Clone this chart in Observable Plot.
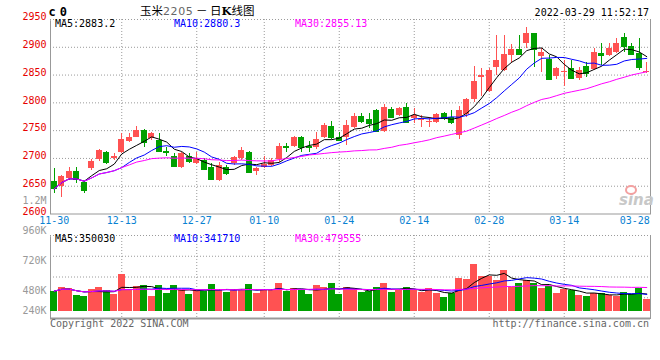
<!DOCTYPE html>
<html><head><meta charset="utf-8">
<script src="https://cdn.jsdelivr.net/npm/d3@7"></script>
<script src="https://cdn.jsdelivr.net/npm/@observablehq/plot@0.6"></script>
<style>
body{margin:0;background:#fff}
#wrap{position:relative;width:660px;height:360px;overflow:hidden;background:#fff;font-family:"DejaVu Sans Mono",monospace;}
#wrap svg{position:absolute;left:0;}
.t{position:absolute;white-space:nowrap;font-size:10px;line-height:10px;font-family:"DejaVu Sans Mono",monospace;}
</style></head><body>
<div id="wrap"></div>
<script>
// ---------- data ----------
const dates = ["11-30","12-01","12-02","12-03","12-06","12-07","12-08","12-09","12-10","12-13","12-14","12-15","12-16","12-17","12-20","12-21","12-22","12-23","12-24","12-27","12-28","12-29","12-30","12-31","01-04","01-05","01-06","01-07","01-10","01-11","01-12","01-13","01-14","01-17","01-18","01-19","01-20","01-21","01-24","01-25","01-26","01-27","01-28","02-07","02-08","02-09","02-10","02-11","02-14","02-15","02-16","02-17","02-18","02-21","02-22","02-23","02-24","02-25","02-28","03-01","03-02","03-03","03-04","03-07","03-08","03-09","03-10","03-11","03-14","03-15","03-16","03-17","03-18","03-21","03-22","03-23","03-24","03-25","03-28","03-29"];
const openP = [2659,2650,2664,2676,2656,2681,2698,2710,2700,2710, 2731,2738,2750,2736,2732,2713,2704,2683,2704,2690, 2696,2684,2660,2684,2690,2699,2711,2677,2683,2687, 2698,2722,2722,2737,2722,2719,2738,2757,2737,2738, 2756,2776,2770,2786,2749,2788,2777,2792,2771,2768, 2765,2765,2781,2773,2741,2779,2806,2846,2820,2864, 2858,2885,2896,2906,2924,2883,2878,2848,2854,2861, 2844,2865,2860,2889,2885,2891,2917,2901,2888,2854];
const closeP = [2645,2668,2677,2662,2643,2695,2714,2693,2704,2734, 2737,2750,2729,2744,2713,2711,2686,2708,2695,2698, 2680,2662,2687,2672,2701,2714,2675,2682,2689,2696, 2722,2719,2737,2720,2719,2734,2759,2737,2733,2759, 2776,2767,2762,2749,2792,2773,2790,2765,2777,2770, 2766,2779,2771,2765,2786,2806,2838,2849,2858,2876, 2887,2896,2887,2924,2896,2891,2842,2861,2856,2844, 2858,2852,2891,2885,2898,2907,2902,2887,2864,2856];
const highP = [2681,2669,2684,2683,2659,2698,2716,2713,2708,2744, 2745,2758,2752,2746,2744,2720,2709,2711,2709,2710, 2699,2691,2693,2687,2703,2720,2713,2684,2703,2700, 2726,2727,2740,2739,2731,2746,2762,2767,2746,2768, 2780,2780,2780,2788,2797,2792,2792,2798,2789,2777, 2774,2781,2783,2786,2793,2808,2866,2861,2861,2922, 2921,2905,2921,2935,2924,2897,2885,2864,2876,2876, 2864,2873,2897,2906,2906,2915,2924,2906,2915,2873];
const lowP = [2637,2630,2660,2655,2637,2678,2695,2689,2697,2708, 2728,2737,2720,2733,2711,2704,2684,2682,2691,2689, 2678,2660,2659,2670,2687,2696,2673,2669,2681,2685, 2693,2711,2720,2711,2711,2716,2736,2734,2731,2723, 2754,2762,2754,2747,2747,2771,2775,2763,2762,2755, 2755,2763,2769,2761,2734,2774,2801,2811,2818,2849, 2856,2870,2885,2897,2864,2855,2840,2842,2830,2842, 2840,2846,2858,2868,2883,2889,2891,2886,2858,2852];
const volume = [407000,480000,453000,320000,300000,440000,480000,420000,340000,740000, 420000,500000,520000,307000,520000,360000,520000,420000,340000,440000, 407000,540000,440000,380000,420000,440000,540000,360000,420000,420000, 560000,407000,460000,420000,340000,520000,480000,560000,340000,480000, 460000,380000,400000,480000,560000,380000,420000,480000,420000,380000, 460000,360000,280000,360000,660000,640000,950000,710000,700000,620000, 830000,480000,560000,620000,560000,460000,500000,360000,440000,420000, 320000,300000,367000,360000,320000,310000,385000,345000,460000,250000];
const xTickDates = ["11-30","12-13","12-27","01-10","01-24","02-14","02-28","03-14","03-28"];
const priceTicks = [2600,2650,2700,2750,2800,2850,2900,2950];
const volTicks = [1200000,960000,720000,480000,240000];
const maPeriods = [5,10,30];
const maColors = ["#000000","#0000ff","#ff00ff"];
const maPriceLabels = ["MA5:2883.2","MA10:2880.3","MA30:2855.13"];
const maVolLabels = ["MA5:350030","MA10:341710","MA30:479555"];
const titleText = ["玉米","2205"," － 日","K","线图"];
const codeText = "c0";
const timeText = "2022-03-29 11:52:17";
const footLeft = "Copyright 2022 SINA.COM";
const footRight = "http://finance.sina.com.cn";

// ---------- build ----------
const RED = "#ff5252", GREEN = "#00a000", GRID = "#9a9a9a", FRAME = "#999";
const rows = dates.map((d,i)=>({date:d, open:openP[i], close:closeP[i], high:highP[i], low:lowP[i], volume:volume[i]}));
const col = d => d.close >= d.open ? RED : GREEN;
const wrap = document.getElementById("wrap");
const baseStyle = {fontFamily:"DejaVu Sans Mono, monospace", fontSize:"10px", background:"transparent", overflow:"visible"};
const dotted = {stroke:GRID, strokeOpacity:1, strokeDasharray:"1,2"};
const xLabelColor = "#0a82d2";

const mainPlot = Plot.plot({
  width:660, height:232, marginLeft:50, marginRight:10, marginTop:19, marginBottom:18.5,
  style: baseStyle,
  x:{type:"band", domain:dates, paddingInner:0.25, paddingOuter:0.125},
  y:{domain:[2600,2950]},
  color:{type:"identity"},
  marks:[
    Plot.frame({stroke:FRAME}),
    Plot.ruleY([2950],{stroke:"#fff", strokeWidth:1.5}),
    Plot.gridY(priceTicks.slice(1), dotted),
    Plot.gridX(xTickDates.slice(1,-1), dotted),
    Plot.ruleX(rows,{x:"date", y1:"low", y2:"high", stroke:col, shapeRendering:"crispEdges"}),
    Plot.barY(rows,{x:"date", y1:"open", y2:"close", fill:col, shapeRendering:"crispEdges"}),
    Plot.tickY(rows,{x:"date", y:"close", stroke:col, shapeRendering:"crispEdges"}),
    ...maPeriods.map((k,j)=>Plot.lineY(rows, Plot.windowY({k, anchor:"end", strict:false},{x:"date", y:"close", stroke:maColors[j], strokeWidth:1}))),
    Plot.axisY(priceTicks,{anchor:"left", tickSize:0, tickPadding:4, fill:"#e60000", dy:-2.5, tickFormat:d3.format("d"), label:null}),
    Plot.axisX(xTickDates.slice(0,-1),{anchor:"bottom", tickSize:0, tickPadding:3, fill:xLabelColor, label:null}),
    Plot.axisX(xTickDates.slice(-1),{anchor:"bottom", tickSize:0, tickPadding:3, fill:xLabelColor, textAnchor:"end", dx:10.5, label:null})
  ]
});
mainPlot.style.top = "0px";
wrap.appendChild(mainPlot);

const vLo = -140000, vHi = 1520000;
const volGrid = d3.range(1,4).map(i => vLo + (vHi - vLo) * i / 4);
const volPlot = Plot.plot({
  width:660, height:150, marginLeft:50, marginRight:10, marginTop:45, marginBottom:22,
  style: baseStyle,
  x:{type:"band", domain:dates, paddingInner:0.12, paddingOuter:0.06, axis:null},
  y:{domain:[vLo, vHi], axis:null},
  color:{type:"identity"},
  marks:[
    Plot.frame({stroke:FRAME}),
    Plot.ruleY([vHi],{stroke:"#fff", strokeWidth:1.5}),
    Plot.gridY([...volGrid, vHi], dotted),
    Plot.gridX(xTickDates.slice(1,-1), dotted),
    Plot.barY(rows,{x:"date", y:"volume", fill:col, shapeRendering:"crispEdges"}),
    ...maPeriods.map((k,j)=>Plot.lineY(rows, Plot.windowY({k, anchor:"end", strict:false},{x:"date", y:"volume", stroke:maColors[j], strokeWidth:1}))),
    Plot.ruleY([vLo],{stroke:FRAME, strokeWidth:2})
  ]
});
volPlot.style.top = "190px";
wrap.appendChild(volPlot);

// volume tick labels (sina places them on their own evenly spaced scale, lowest clamped)
const fmtVol = d => d >= 1e6 ? (d/1e6) + "M" : (d/1e3) + "K";
const volLabelPlot = Plot.plot({
  width:50, height:340, marginLeft:46, marginRight:4, marginTop:160.7, marginBottom:29.3,
  style: baseStyle,
  y:{domain:[320000,1520000], clamp:true},
  marks:[ Plot.axisY(volTicks,{anchor:"left", tickSize:0, tickPadding:0, fill:"#999", tickFormat:fmtVol, label:null}) ]
});
volLabelPlot.style.top = "0px";
wrap.appendChild(volLabelPlot);

// ---------- texts ----------
function addText(txt, css){ const s=document.createElement("div"); s.className="t"; s.textContent=txt; Object.assign(s.style, css); wrap.appendChild(s); return s; }
addText(codeText, {left:"48.5px", top:"6px", fontSize:"12px", lineHeight:"12px", fontWeight:"bold", letterSpacing:"4px"});
const title = document.createElement("div"); title.className="t";
Object.assign(title.style,{left:"140px", top:"4px", fontSize:"11.5px", lineHeight:"12px", fontFamily:"'Noto Sans CJK SC', sans-serif", color:"#000"});
titleText.forEach((p,i)=>{ const sp=document.createElement("span"); sp.textContent=p;
  if(i===1){ sp.style.color="#666"; sp.style.fontFamily="'DejaVu Sans', sans-serif"; sp.style.fontSize="11px"; sp.style.letterSpacing="0.6px"; }
  if(i===3){ sp.style.fontWeight="bold"; sp.style.fontFamily="'DejaVu Serif', serif"; }
  title.appendChild(sp); });
wrap.appendChild(title);
addText(timeText, {right:"11px", top:"7.5px", color:"#000"});
const legendX = [55,174,295];
maPriceLabels.forEach((t,j)=>addText(t,{left:legendX[j]+"px", top:"19.2px", color:maColors[j]}));
maVolLabels.forEach((t,j)=>addText(t,{left:legendX[j]+"px", top:"233.5px", color:maColors[j]}));
addText(footLeft, {left:"50px", top:"319.2px", color:"#666"});
addText(footRight, {right:"11px", top:"319.2px", color:"#666"});
// faint sina watermark
addText("sina", {left:"619px", top:"193px", fontFamily:"'DejaVu Sans', sans-serif", fontStyle:"italic", fontWeight:"bold", fontSize:"15px", lineHeight:"15px", color:"#c8c8c8"});
const eye = document.createElement("div");
Object.assign(eye.style,{position:"absolute", left:"625px", top:"185px", width:"8px", height:"6px", border:"2px solid #f3a0a0", borderRadius:"50%"});
wrap.appendChild(eye);
</script>
</body></html>
